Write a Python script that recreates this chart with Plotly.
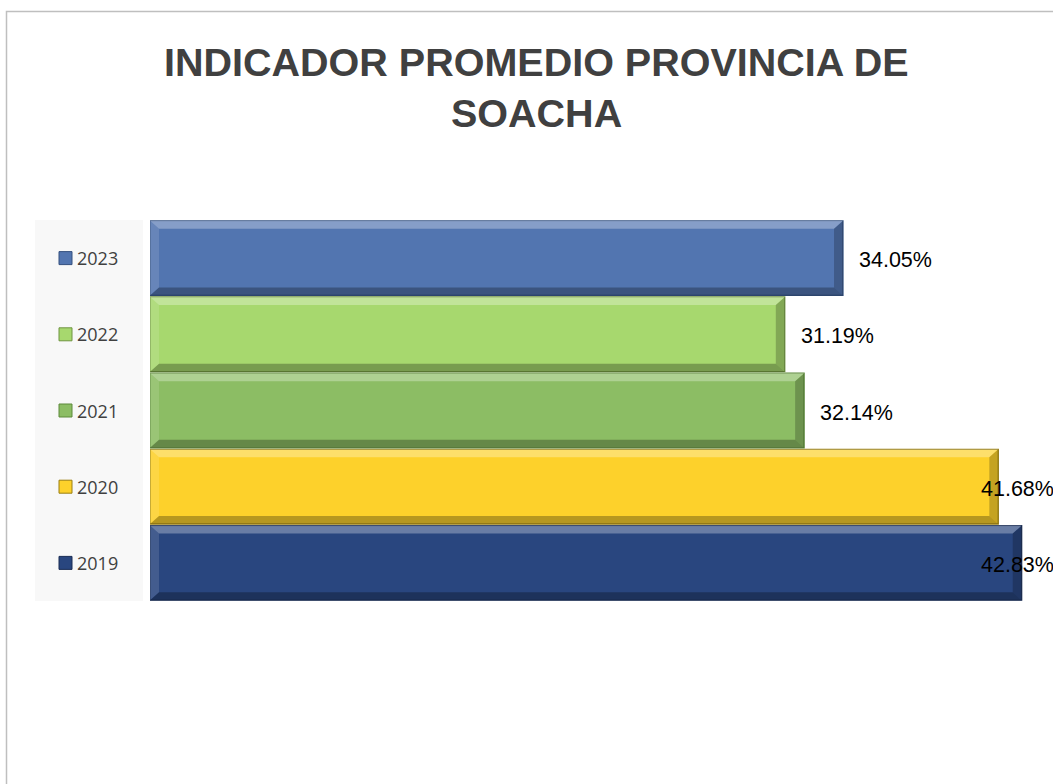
import plotly.graph_objects as go

years = ["2019", "2020", "2021", "2022", "2023"]
values = [42.83, 41.68, 32.14, 31.19, 34.05]
labels = ["42.83%", "41.68%", "32.14%", "31.19%", "34.05%"]
colors = ["#29467f", "#fdd12b", "#8cbd64", "#a7d86e", "#5275b0"]
edge_colors = ["#1a2d55", "#9a7f10", "#5c8a3a", "#6f9440", "#34507f"]
title_lines = ["INDICADOR PROMEDIO PROVINCIA DE", "SOACHA"]

W, H = 1053, 784
ML, MR, MT, MB = 150, 3, 220, 183
PW = W - ML - MR
PH = H - MT - MB
XMAX = 44.22
BARGAP = 0.02

sans = "Liberation Sans, Arial, sans-serif"

fig = go.Figure()
fig.add_trace(go.Bar(
    y=years, x=values, orientation="h",
    marker=dict(color=colors, line=dict(color=edge_colors, width=1.2)),
    showlegend=False, hoverinfo="skip",
))

def px_x(p):
    return (p - ML) / PW

def px_y(p):
    return (H - MB - p) / PH

shapes = [
    dict(type="rect", xref="paper", yref="paper",
         x0=px_x(6.5), x1=px_x(1100), y0=px_y(900), y1=px_y(11.5),
         line=dict(color="#bfbfbf", width=1.5), fillcolor="rgba(0,0,0,0)", layer="below"),
    dict(type="rect", xref="paper", yref="paper",
         x0=px_x(35), x1=px_x(143), y0=px_y(601), y1=px_y(220),
         line=dict(width=0), fillcolor="#f8f8f8", layer="below"),
]

# bevel overlays derived from each bar's value
n = len(years)
band = 1.0 / n
bx = 9 / PW * XMAX          # bevel width in x data units
by = 8 / PH                 # bevel height in paper units
for i, v in enumerate(values):
    y_lo = (i + BARGAP / 2) * band
    y_hi = (i + 1 - BARGAP / 2) * band
    polys = [
        ([(0, y_hi), (v, y_hi), (v - bx, y_hi - by), (bx, y_hi - by)], "rgba(255,255,255,0.30)"),
        ([(0, y_lo), (0, y_hi), (bx, y_hi - by), (bx, y_lo + by)], "rgba(255,255,255,0.12)"),
        ([(v, y_lo), (v, y_hi), (v - bx, y_hi - by), (v - bx, y_lo + by)], "rgba(0,0,0,0.22)"),
        ([(0, y_lo), (v, y_lo), (v - bx, y_lo + by), (bx, y_lo + by)], "rgba(0,0,0,0.28)"),
    ]
    for pts, fc in polys:
        path = "M " + " L ".join(f"{x},{y}" for x, y in pts) + " Z"
        shapes.append(dict(type="path", xref="x", yref="paper", path=path,
                           fillcolor=fc, line=dict(width=0), layer="above"))

annotations = []
half = 6.5 / (PH / n)
for i, (yr, c, ec) in enumerate(zip(years, colors, edge_colors)):
    shapes.append(dict(type="rect", xref="paper", yref="y",
                       x0=px_x(59), x1=px_x(72), y0=i - half, y1=i + half,
                       fillcolor=c, line=dict(color=ec, width=1)))
    annotations.append(dict(xref="paper", yref="y", x=px_x(75), y=i,
                            text=yr, showarrow=False, xanchor="left", yanchor="middle",
                            font=dict(family="Open Sans, Noto Sans, sans-serif", size=18, color="#404040")))

label_w = 76
for i, (v, lab) in enumerate(zip(values, labels)):
    end_px = v / XMAX * PW
    if end_px + 15 + label_w <= PW:
        annotations.append(dict(xref="x", yref="y", x=v, y=i, xshift=14, yshift=-2,
                                text=lab, showarrow=False, xanchor="left", yanchor="middle",
                                font=dict(family=sans, size=21.5, color="#000000")))
    else:
        annotations.append(dict(xref="paper", yref="y", x=px_x(W + 3), y=i, yshift=-2,
                                text=lab, showarrow=False, xanchor="right", yanchor="middle",
                                font=dict(family=sans, size=21.5, color="#000000")))

title_y = [62, 113]
for line, py in zip(title_lines, title_y):
    annotations.append(dict(xref="paper", yref="paper", x=px_x(536), y=px_y(py),
                            text="<b>" + line + "</b>", showarrow=False,
                            xanchor="center", yanchor="middle",
                            font=dict(family=sans, size=39.5, color="#404040")))

fig.update_layout(
    width=W, height=H,
    margin=dict(l=ML, r=MR, t=MT, b=MB, pad=0),
    paper_bgcolor="white", plot_bgcolor="white",
    bargap=BARGAP,
    xaxis=dict(range=[0, XMAX], visible=False, fixedrange=True),
    yaxis=dict(type="category", showticklabels=False, showgrid=False, zeroline=False,
               showline=False, ticks="", range=[-0.5, 4.5], fixedrange=True),
    shapes=shapes, annotations=annotations,
)

fig.write_html("out.html", config={"displayModeBar": False},
               post_script="document.body.style.margin='0';document.body.style.overflow='hidden';")
